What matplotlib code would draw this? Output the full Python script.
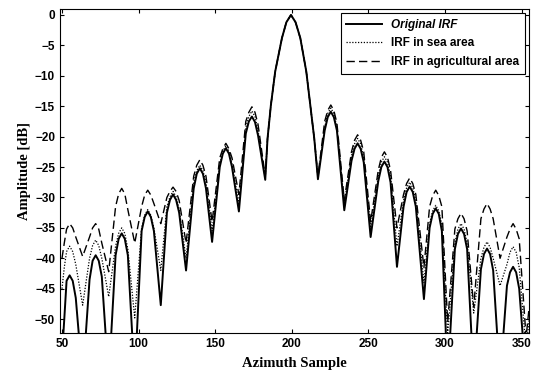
import matplotlib
matplotlib.use("Agg")
import matplotlib.pyplot as plt

# azimuth sample positions (nulls / flanks / peaks)
x = [50, 51.5, 53, 55, 57, 59, 63.5,
     68, 70, 72, 74, 76, 80.5,
     85, 87, 89, 91, 93, 97.5,
     102, 104, 106, 108, 110, 114.5,
     118.5, 120.5, 122.5, 124.5, 126.5, 131,
     136, 138, 140, 142, 144, 148,
     153, 155, 157, 159, 161, 165.5,
     170, 172, 174, 176, 178, 182.7,
     184.2, 186.4, 189.2, 193.6, 196.5, 199.5, 202.5, 205.6, 209.5, 212.1, 214.7, 217.1,
     221.5, 223.5, 225.5, 227.5, 229.5, 234.3,
     239, 241, 243, 245, 247, 251.5,
     256.5, 258.5, 260.5, 262.5, 264.5, 268.7,
     273, 275, 277, 279, 281, 286.3,
     290, 292, 294, 296, 298, 301.8,
     306.5, 308.5, 310.5, 312.5, 314.5, 318.8,
     323.5, 325.5, 327.5, 329.5, 331.5, 336,
     340.5, 342.5, 344.5, 346.5, 348.5, 353,
     355]

original = [-56, -50, -43.7, -42.8, -43.7, -46.5, -60,
            -43.5, -40.4, -39.5, -40.4, -43, -60,
            -39.5, -36.8, -35.9, -36.8, -39.5, -60,
            -35.5, -33.2, -32.3, -33.2, -35.5, -47.7,
            -32.5, -30.4, -29.5, -30.4, -32.5, -42,
            -28.5, -26.1, -25.2, -26.1, -28.5, -37.3,
            -25, -22.8, -21.9, -22.8, -25, -32.3,
            -19.5, -17.5, -16.7, -17.6, -19.8, -27.1,
            -20.3, -14.8, -9.3, -3.8, -1.2, 0, -1.2, -3.8, -9.3, -14.8, -20.3, -27,
            -19, -16.8, -15.9, -16.8, -19, -32.1,
            -24, -22, -21.1, -22, -24.2, -36.5,
            -27.3, -25, -24.1, -25, -27.5, -41.4,
            -31.5, -29.1, -28.2, -29.1, -31.5, -46.7,
            -35, -32.7, -31.8, -32.7, -35.5, -60,
            -38.5, -36, -35.1, -36, -38.5, -60,
            -41.8, -39.3, -38.4, -39.3, -42, -60,
            -44.5, -42.3, -41.4, -42.3, -45, -60,
            -55]

sea = [-45, -41.5, -38.9, -38, -38.9, -41, -47.7,
       -40, -37.9, -37, -37.9, -40, -46.3,
       -38, -35.9, -35, -35.9, -38.5, -49.8,
       -35, -32.9, -32, -32.9, -35, -42,
       -31.5, -29.9, -29, -29.9, -32, -40,
       -27.5, -25.6, -24.7, -25.6, -27.5, -35.5,
       -24.5, -22.4, -21.5, -22.4, -24.5, -31,
       -18.5, -16.7, -15.8, -16.7, -19, -26.8,
       -20.3, -14.8, -9.3, -3.8, -1.2, 0, -1.2, -3.8, -9.3, -14.8, -20.3, -26.8,
       -18.5, -16.2, -15.3, -16.2, -18.5, -31,
       -23.2, -21.2, -20.3, -21.2, -23.5, -35,
       -26.5, -24.2, -23.3, -24.2, -26.5, -38,
       -30.5, -28.4, -27.5, -28.4, -30.5, -44,
       -34.3, -32.2, -31.3, -32.2, -34.5, -52.5,
       -37.5, -35.2, -34.3, -35.2, -37.5, -49,
       -40, -38.2, -37.3, -38.2, -40, -44.5,
       -41, -39, -38.1, -39, -41.5, -55,
       -50]

agri = [-40, -37.5, -35.2, -34.3, -35, -36.5, -39.7,
        -36.5, -35, -34.3, -35.2, -37.5, -42.2,
        -31.5, -29.4, -28.5, -29.4, -32, -37.5,
        -31.5, -29.6, -28.8, -29.6, -31, -34.3,
        -30, -29, -28.3, -29, -30.5, -37.5,
        -26.5, -24.7, -23.8, -24.7, -26.5, -34,
        -23.5, -22, -21.1, -22, -23.5, -29.5,
        -17.5, -16, -15.1, -16, -18, -26.5,
        -20.3, -14.8, -9.3, -3.8, -1.2, 0, -1.2, -3.8, -9.3, -14.8, -20.3, -26.5,
        -17.5, -15.7, -14.8, -15.7, -17.8, -30.5,
        -22.5, -20.6, -19.7, -20.6, -22.5, -34,
        -25.5, -23.4, -22.5, -23.4, -25.5, -35,
        -29.5, -27.7, -26.8, -27.7, -29.5, -41.5,
        -31.5, -29.7, -28.8, -29.7, -31.5, -50.5,
        -35.2, -33.5, -32.6, -33.5, -35.5, -48,
        -33.5, -31.9, -31, -31.9, -33.5, -40,
        -36.5, -35.2, -34.3, -35.2, -36.8, -53,
        -48]

xticks = [50, 100, 150, 200, 250, 300, 350]
yticks = [0, -5, -10, -15, -20, -25, -30, -35, -40, -45, -50]

fig = plt.figure(figsize=(5.38, 3.79), dpi=100)
ax = fig.add_axes([0.1115, 0.121, 0.8715, 0.854])

ax.plot(x, original, color="black", lw=1.4, label="Original IRF")
ax.plot(x, sea, color="black", lw=0.9, ls=(0, (1, 1.3)), label="IRF in sea area")
ax.plot(x, agri, color="black", lw=1.0, ls=(0, (6, 3)), label="IRF in agricultural area")

ax.set_xlim(48.7, 354.8)
ax.set_ylim(-52.3, 0.9)
ax.set_xticks(xticks)
ax.set_yticks(yticks)
ax.tick_params(direction="in", top=True, right=True, length=3, width=0.8)
for lab in ax.get_xticklabels() + ax.get_yticklabels():
    lab.set_fontfamily("Liberation Sans")
    lab.set_fontweight("bold")
    lab.set_fontsize(8.5)

ax.set_xlabel("Azimuth Sample", family="Liberation Serif", weight="bold", fontsize=10.5, labelpad=5)
ax.set_ylabel("Amplitude [dB]", family="Liberation Serif", weight="bold", fontsize=10.5, labelpad=3)

leg = ax.legend(loc="upper right", fancybox=False, edgecolor="black", framealpha=1,
                handlelength=3.0, borderaxespad=0.3, labelspacing=0.55, borderpad=0.5,
                prop={"family": "Liberation Sans", "weight": "bold", "size": 8.5})
leg.get_frame().set_linewidth(0.8)
leg.get_texts()[0].set_style("italic")

fig.savefig("out.png", dpi=100)
